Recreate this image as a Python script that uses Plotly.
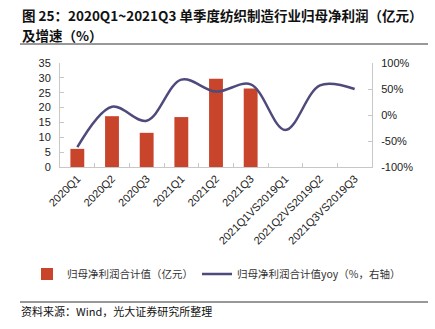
import plotly.graph_objects as go

categories = ["2020Q1", "2020Q2", "2020Q3", "2021Q1", "2021Q2", "2021Q3",
              "2021Q1VS2019Q1", "2021Q2VS2019Q2", "2021Q3VS2019Q3"]
bar_categories = categories[:6]
profit = [6.1, 17.1, 11.5, 16.8, 29.7, 26.4]
yoy = [-62, 16, -11, 68, 45, 59, -29, 57, 50]
left_ticks = [0, 5, 10, 15, 20, 25, 30, 35]
right_tickvals = [-100, -50, 0, 50, 100]
right_ticktext = ["-100%", "-50%", "0%", "50%", "100%"]

BAR_COLOR = "#C8442A"
LINE_COLOR = "#4E4B7C"
AXIS_COLOR = "#C8C8C8"
CJK = "Noto Sans CJK SC"
LAT = "Liberation Sans"

W, H = 435, 329
ML, MR, MT, MB = 60, 63, 63, 162
PW, PH = W - ML - MR, H - MT - MB

def px(x):
    return (x - ML) / PW

def py(y):
    return (H - MB - y) / PH

fig = go.Figure()
fig.add_trace(go.Bar(
    x=bar_categories, y=profit, name="归母净利润合计值（亿元）",
    marker=dict(color=BAR_COLOR, line=dict(width=0)), width=0.4, legend="legend",
))
fig.add_trace(go.Scatter(
    x=categories, y=yoy, name="归母净利润合计值yoy（%，右轴）", yaxis="y2",
    mode="lines", line=dict(color=LINE_COLOR, width=2.5, shape="spline", smoothing=1.0),
    legend="legend2",
))

legend_common = dict(orientation="h", xanchor="left", yanchor="middle",
                     font=dict(family=CJK, size=10.5, color="#333"),
                     itemwidth=30, bgcolor="rgba(0,0,0,0)")

fig.update_layout(
    width=W, height=H, margin=dict(l=ML, r=MR, t=MT, b=MB),
    paper_bgcolor="white", plot_bgcolor="white",
    font=dict(family=LAT, size=11, color="#222"),
    showlegend=True,
    legend=dict(x=px(27), y=py(274), **legend_common),
    legend2=dict(x=px(197), y=py(274), **legend_common),
    xaxis=dict(type="category", categoryorder="array", categoryarray=categories,
               range=[-0.5, 8.5],
               showline=True, linecolor=AXIS_COLOR, linewidth=1,
               ticks="inside", ticklen=4, tickcolor=AXIS_COLOR, tickson="boundaries",
               tickangle=-45, tickfont=dict(family=LAT, size=11, color="#222"),
               showgrid=False, zeroline=False),
    yaxis=dict(range=[0, 35], tickvals=left_ticks, showline=True, linecolor=AXIS_COLOR,
               ticks="inside", ticklen=4, tickcolor=AXIS_COLOR, showgrid=False,
               zeroline=False, tickfont=dict(family=LAT, size=11, color="#222"),
               ticklabelstandoff=6),
    yaxis2=dict(range=[-100, 100], overlaying="y", side="right",
                tickvals=right_tickvals, ticktext=right_ticktext,
                showline=True, linecolor=AXIS_COLOR, ticks="inside", ticklen=4,
                tickcolor=AXIS_COLOR, showgrid=False, zeroline=False,
                tickfont=dict(family=LAT, size=11, color="#222"),
                ticklabelstandoff=6),
    bargap=0.6,
)

# Title
fig.add_annotation(text="<b>图 25：2020Q1~2021Q3 单季度纺织制造行业归母净利润（亿元）</b>",
                   xref="paper", yref="paper", x=px(20), y=py(15), xanchor="left",
                   yanchor="middle", showarrow=False,
                   font=dict(family=CJK, size=13.5, color="#111"))
fig.add_annotation(text="<b>及增速（%）</b>",
                   xref="paper", yref="paper", x=px(20), y=py(35), xanchor="left",
                   yanchor="middle", showarrow=False,
                   font=dict(family=CJK, size=13.5, color="#111"))
# Source
fig.add_annotation(text="资料来源：Wind，光大证券研究所整理",
                   xref="paper", yref="paper", x=px(19), y=py(311), xanchor="left",
                   yanchor="middle", showarrow=False,
                   font=dict(family=CJK, size=11, color="#111"))
# Separator lines
fig.add_shape(type="line", xref="paper", yref="paper", x0=px(20), x1=px(428),
              y0=py(44), y1=py(44), line=dict(color="#333", width=1))
fig.add_shape(type="line", xref="paper", yref="paper", x0=px(20), x1=px(428),
              y0=py(302), y1=py(302), line=dict(color="#333", width=1))

fig.write_html("out.html")
